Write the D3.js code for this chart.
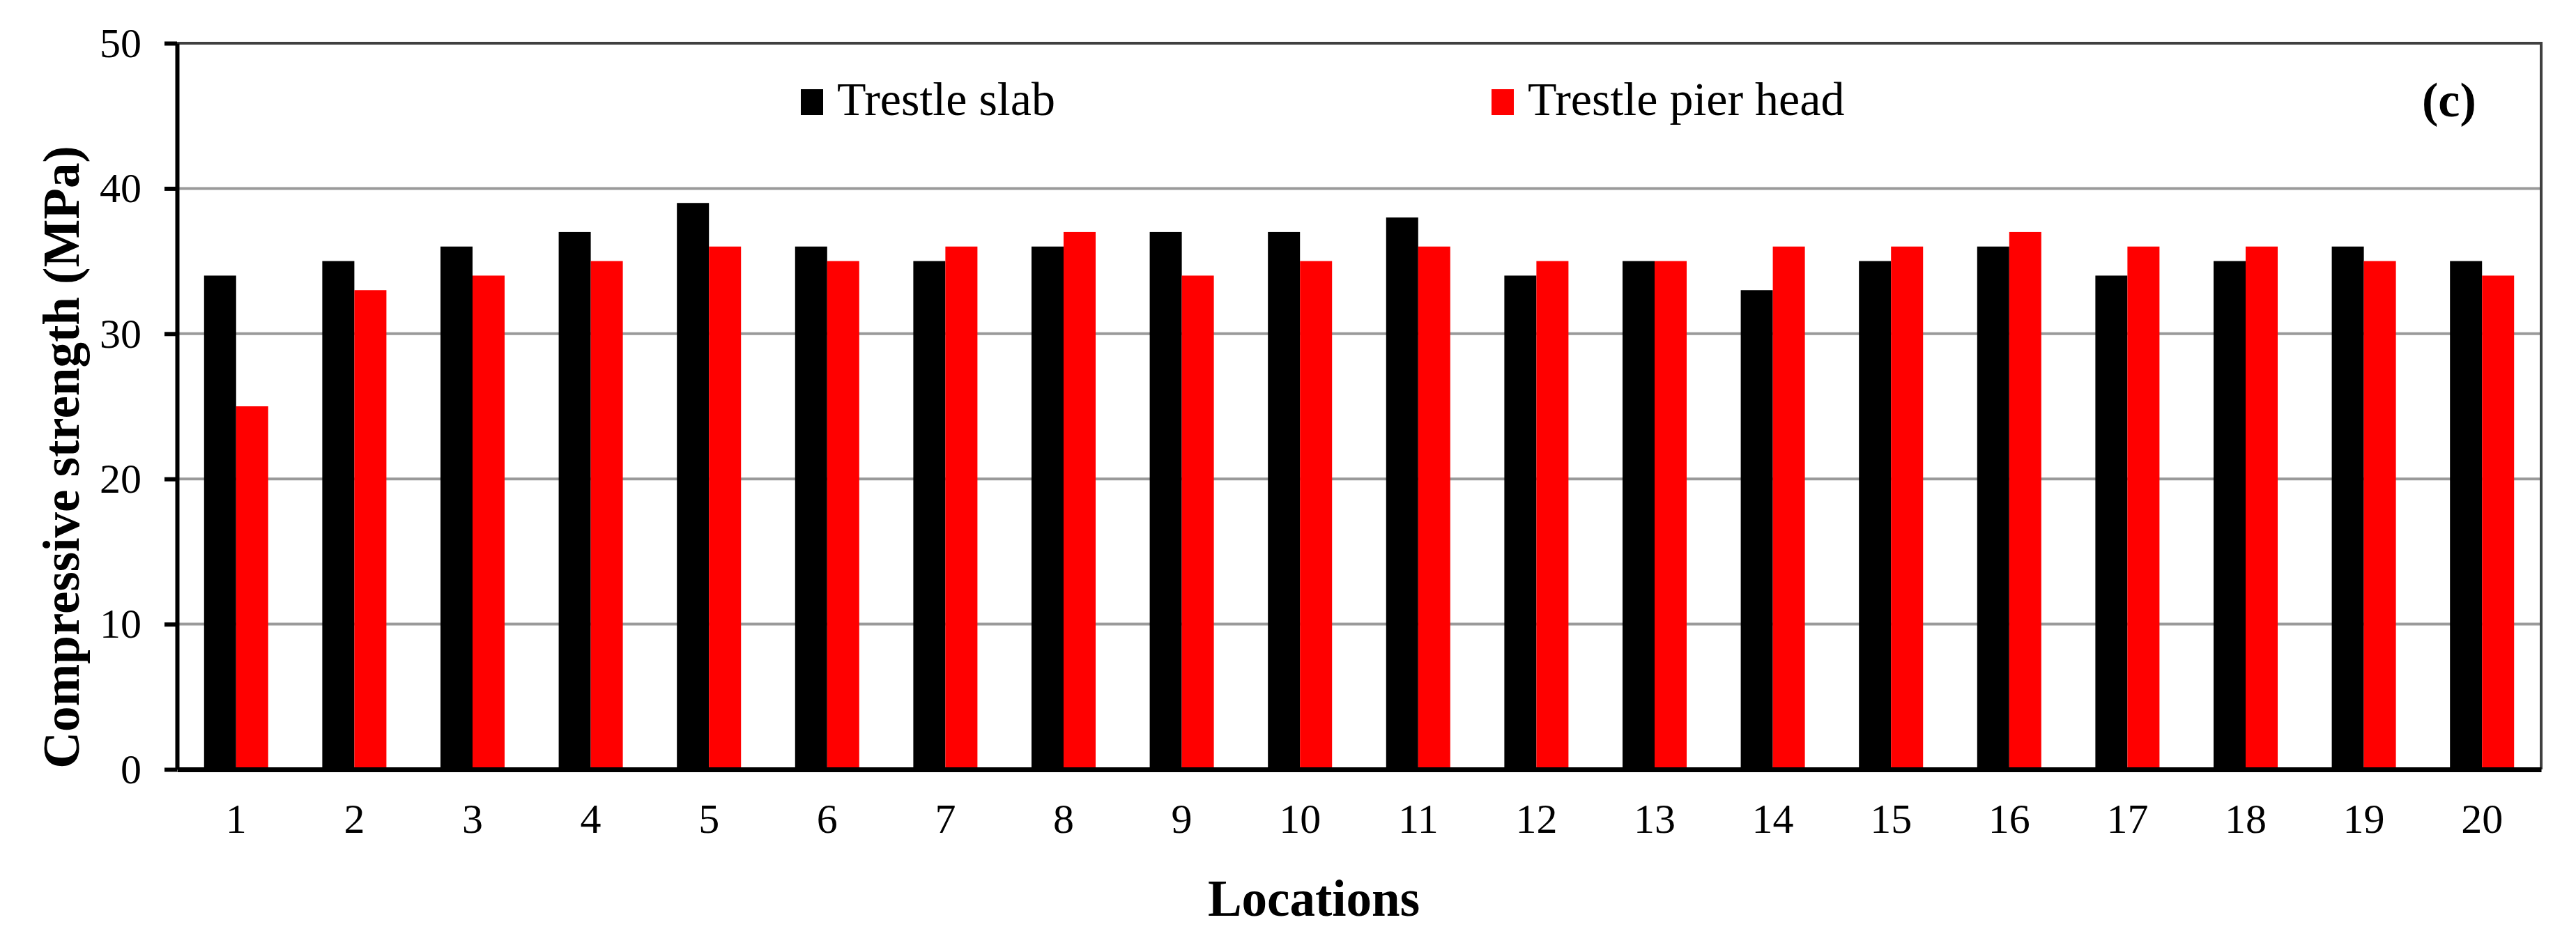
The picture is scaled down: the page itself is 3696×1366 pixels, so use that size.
<!DOCTYPE html>
<html>
<head>
<meta charset="utf-8">
<script src="https://cdn.jsdelivr.net/npm/d3@7"></script>
<style>
  body { margin: 0; background: #fff; }
  text { font-family: "Liberation Serif", "Times New Roman", serif; fill: #000; }
  .axis text { font-size: 60px; }
  .label { font-size: 73px; font-weight: bold; }
</style>
</head>
<body>
<div id="chart"></div>
<script>
var locations = ["1","2","3","4","5","6","7","8","9","10","11","12","13","14","15","16","17","18","19","20"];
var slab = [34, 35, 36, 37, 39, 36, 35, 36, 37, 37, 38, 34, 35, 33, 35, 36, 34, 35, 36, 35];
var pierHead = [25, 33, 34, 35, 36, 35, 36, 37, 34, 35, 36, 35, 35, 36, 36, 37, 36, 36, 35, 34];
var seriesNames = ["Trestle slab", "Trestle pier head"];
var seriesColors = ["#000000", "#ff0000"];
var yTicks = [0, 10, 20, 30, 40, 50];

var width = 3696, height = 1366;
var margin = {top: 62, right: 50, bottom: 262, left: 254};
var graphWidth = width - margin.left - margin.right;
var graphHeight = height - margin.top - margin.bottom;

var data = locations.map(function(loc, i) {
  return {loc: loc, values: [slab[i], pierHead[i]]};
});

var svg = d3.select("#chart")
  .append("svg")
  .attr("width", width)
  .attr("height", height)
  .style("background", "#fff")
  .append("g")
  .attr("transform", "translate(" + margin.left + "," + margin.top + ")");

var gap = 0.4575;
var x0 = d3.scaleBand()
  .domain(locations)
  .range([0, graphWidth])
  .paddingInner(gap)
  .paddingOuter(gap / 2);

var x1 = d3.scaleBand()
  .domain([0, 1])
  .range([0, x0.bandwidth()]);

var y = d3.scaleLinear()
  .domain([0, 50])
  .range([graphHeight, 0]);

// gridlines
svg.append("g")
  .selectAll("line")
  .data(yTicks.filter(function(t) { return t > 0 && t < 50; }))
  .enter()
  .append("line")
  .attr("x1", 0)
  .attr("x2", graphWidth)
  .attr("y1", d => y(d))
  .attr("y2", d => y(d))
  .attr("stroke", "#9a9a9a")
  .attr("stroke-width", 4);

// bars
svg.append("g")
  .selectAll("g")
  .data(data)
  .enter()
  .append("g")
  .attr("transform", d => "translate(" + x0(d.loc) + ",0)")
  .selectAll("rect")
  .data(d => d.values)
  .enter()
  .append("rect")
  .attr("x", (d, i) => x1(i))
  .attr("width", x1.bandwidth())
  .attr("y", d => y(d))
  .attr("height", d => graphHeight - y(d))
  .attr("fill", (d, i) => seriesColors[i]);

// top and right frame
svg.append("path")
  .attr("d", "M0," + y(50) + "H" + graphWidth + "V" + graphHeight)
  .attr("fill", "none")
  .attr("stroke", "#404040")
  .attr("stroke-width", 4);

// y axis
var yAxis = svg.append("g")
  .attr("class", "axis")
  .call(
    d3.axisLeft(y)
    .tickValues(yTicks)
    .tickSize(18)
    .tickSizeOuter(0)
    .tickPadding(33));
yAxis.select(".domain").attr("stroke", "#000").attr("stroke-width", 6);
yAxis.selectAll(".tick line").attr("stroke", "#000").attr("stroke-width", 6);
yAxis.selectAll("text").attr("fill", "#222");

// x axis
var xAxis = svg.append("g")
  .attr("class", "axis")
  .attr("transform", "translate(0," + graphHeight + ")")
  .call(
    d3.axisBottom(x0)
    .tickSize(0)
    .tickSizeOuter(0)
    .tickPadding(48));
xAxis.select(".domain").attr("stroke", "#000").attr("stroke-width", 7);
xAxis.selectAll("text").attr("fill", "#222");

// legend
var legendX = [895, 1886];
var legend = svg.selectAll(".legend")
  .data(seriesNames)
  .enter()
  .append("g")
  .attr("class", "legend")
  .attr("transform", (d, i) => "translate(" + legendX[i] + ",66)");

legend.append("rect")
  .attr("width", 32)
  .attr("height", 37)
  .attr("fill", (d, i) => seriesColors[i]);

legend.append("text")
  .attr("x", 52)
  .attr("y", 37)
  .style("font-size", "68px")
  .text(d => d);

// panel tag
svg.append("text")
  .attr("x", 3475 - margin.left)
  .attr("y", 167 - margin.top)
  .style("font-size", "70px")
  .style("font-weight", "bold")
  .text("(c)");

// text label for the y axis
svg.append("text")
  .attr("transform", "rotate(-90)")
  .attr("y", 113 - margin.left)
  .attr("x", -(656 - margin.top))
  .attr("class", "label")
  .style("text-anchor", "middle")
  .text("Compressive strength (MPa)");

// text label for the x axis
svg.append("text")
  .attr("x", 1885 - margin.left)
  .attr("y", 1314 - margin.top)
  .attr("class", "label")
  .style("text-anchor", "middle")
  .text("Locations");
</script>
</body>
</html>
